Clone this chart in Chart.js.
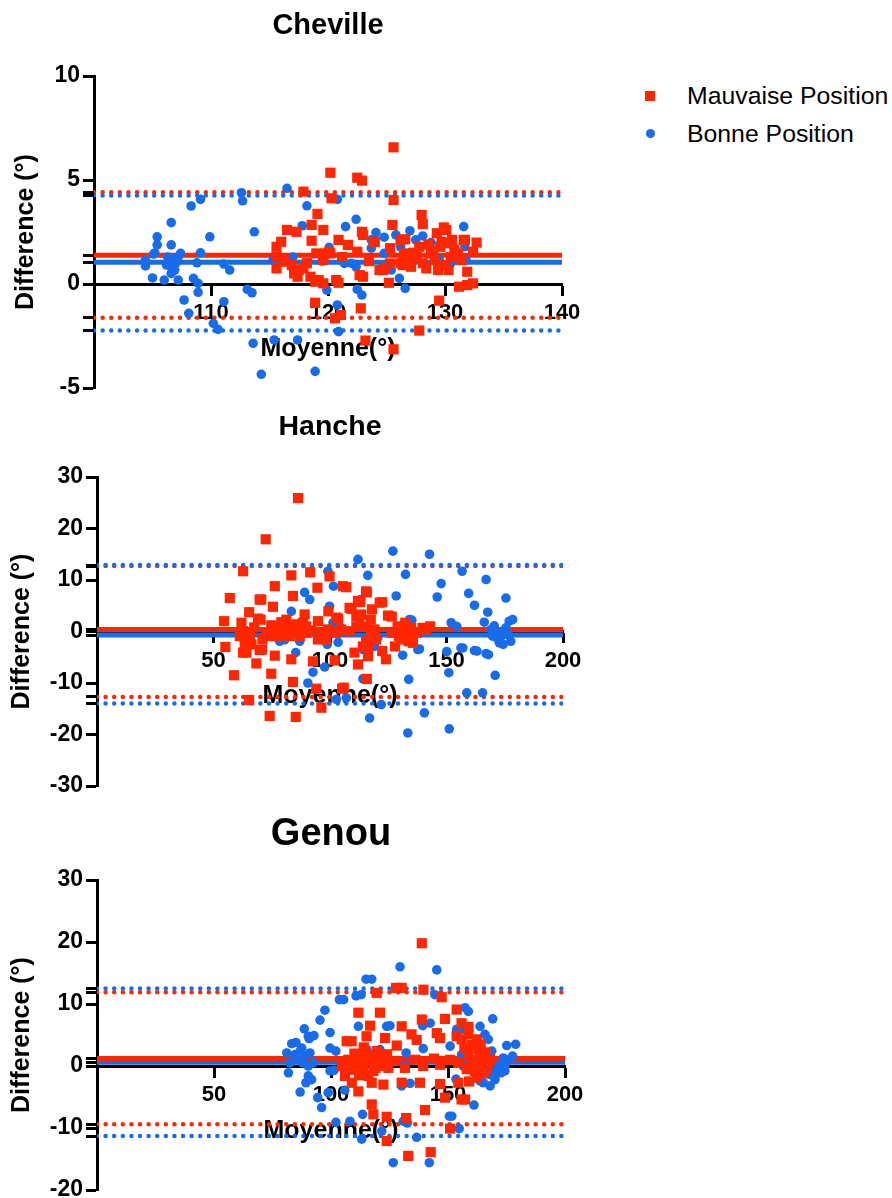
<!DOCTYPE html>
<html><head><meta charset="utf-8">
<script src="https://cdn.jsdelivr.net/npm/chart.js@4.4.1/dist/chart.umd.min.js"></script>
<style>
html,body{margin:0;padding:0;background:#fff;overflow:hidden;width:892px;height:1198px;}
#wrap{position:relative;width:892px;height:1198px;}
canvas{position:absolute;left:0;}
#legend{position:absolute;left:0;top:0;font-family:"Liberation Sans",Arial,sans-serif;font-size:24.8px;color:#000;}
.lg-mark{position:absolute;}
.lg-text{position:absolute;left:687px;height:28px;line-height:28px;white-space:nowrap;}
</style></head><body>
<div id="wrap">
<canvas id="c1" width="600" height="410" style="top:0px;width:600px;height:410px"></canvas>
<canvas id="c2" width="600" height="410" style="top:400px;width:600px;height:410px"></canvas>
<canvas id="c3" width="600" height="398" style="top:800px;width:600px;height:398px"></canvas>
<div id="legend"></div>
</div>
<script>
// ---------------- DATA ----------------
const seriesNames = ['Mauvaise Position', 'Bonne Position'];

// Cheville  [moyenne, difference]
const chevilleXRange = [100, 140];
const chevilleYRange = [-5, 10];
const chevilleYTicks = [-5, 0, 5, 10];
const chevilleMauvaiseLimits = [-1.62, 1.38, 4.41]; // LoA basse, biais, LoA haute
const chevilleBonneLimits = [-2.23, 1.04, 4.26];
const chevilleMauvaise = [
[115.6,1.79],[116.0,2.03],[116.5,2.6],[117.3,2.51],[115.6,1.31],[115.6,0.75],[116.1,1.07],[117.1,0.51],[117.4,0.35],[117.9,0.75],
[117.9,4.44],[119.1,3.37],[118.6,2.84],[119.6,2.6],[118.6,2.08],[118.9,-0.9],[119.8,1.47],[119.6,1.15],[120.1,1.55],[119.2,0.19],
[119.6,0.03],[120.7,0.19],[120.9,0.06],[120.2,5.35],[120.3,4.12],[120.6,-1.65],[121.1,-1.49],[120.9,2.12],[121.7,1.88],[122.5,5.11],
[122.9,4.97],[122.9,2.51],[123.0,2.36],[122.5,1.55],[122.7,0.43],[123.0,0.35],[122.8,-1.17],[123.2,-2.72],[124.0,2.03],[124.7,0.67],
[124.8,0.75],[125.2,0.06],[125.6,6.57],[125.6,4.04],[125.5,2.84],[125.3,1.72],[125.3,0.99],[125.6,-3.14],[126.2,2.12],[126.6,2.15],
[126.4,0.91],[127.1,0.83],[126.5,1.47],[127.8,1.79],[127.6,1.31],[128.1,1.0],[128.4,0.75],[128.8,1.47],[129.1,1.15],[129.4,0.67],
[129.6,1.79],[129.7,2.03],[130.1,2.6],[130.6,2.12],[130.8,1.63],[131.1,1.47],[131.4,1.15],[130.0,0.91],[130.3,0.67],[128.0,3.32],
[128.1,2.88],[129.5,-0.8],[127.8,-2.24],[131.7,2.12],[132.7,1.99],[132.4,1.55],[131.9,0.59],[131.2,-0.13],[131.9,-0.05],[132.4,0.03],
[129.9,2.72],[129.3,2.44],[130.0,1.96],[131.6,2.12],[116.9,0.91],[117.5,0.67],[118.5,0.35],[118.9,0.11],[119.0,1.47],[120.2,1.47],
[123.9,2.03],[124.4,0.67],[126.9,0.91],[126.2,1.0],[116.3,1.2],[118.2,1.0],[121.2,1.3],[123.5,1.1],[127.3,1.5],[128.6,1.9],
[129.0,1.6],[130.5,1.3],[126.9,1.2]
];
const chevilleBonne = [
[104.4,1.15],[104.4,0.87],[105.0,0.29],[105.2,1.49],[105.4,1.88],[105.4,2.27],[106.6,2.95],[106.6,1.88],[106.0,0.19],[107.2,0.19],
[107.4,1.47],[107.7,-0.77],[108.1,-1.41],[108.3,3.75],[109.1,4.07],[109.9,2.27],[109.1,1.5],[108.8,1.02],[108.5,0.27],[108.9,0.03],
[108.9,-0.4],[110.2,-1.89],[110.6,-2.18],[111.1,-0.85],[111.1,0.96],[111.6,0.67],[112.6,4.39],[112.7,4.0],[113.7,2.51],[113.1,-0.26],
[113.5,-0.42],[113.6,-2.85],[114.3,-4.34],[115.4,-2.69],[116.5,4.6],[115.3,1.15],[116.3,1.19],[117.4,-2.69],[118.2,3.76],[117.8,2.8],
[118.9,-4.2],[119.9,-0.29],[120.1,1.76],[120.8,4.07],[120.8,-1.01],[120.9,-2.29],[121.5,2.76],[121.4,0.99],[122.4,3.11],[122.4,0.83],
[122.5,-0.26],[122.9,-0.53],[123.7,2.12],[123.7,1.72],[124.1,2.47],[124.8,2.25],[124.8,1.47],[125.8,2.36],[125.4,0.67],[126.2,1.79],
[126.1,0.27],[126.6,-0.21],[127.0,2.56],[127.5,2.12],[128.1,2.31],[128.8,1.99],[131.6,2.76],[131.7,1.79],[131.8,1.15],[131.1,1.39],
[106.4,1.07],[106.8,1.24],[107.2,1.31],[106.6,0.83],[106.2,0.91],[106.9,0.67],[106.6,0.51],[105.1,1.44],[107.0,1.0],[106.3,1.3],
[117.0,1.3],[119.5,1.1],[122.0,1.0],[129.5,1.2],[130.5,1.0]
];

// Hanche
const hancheXRange = [0, 200];
const hancheYRange = [-30, 30];
const hancheYTicks = [-30, -20, -10, 0, 10, 20, 30];
const hancheMauvaiseLimits = [-12.7, 0.4, 12.7];
const hancheBonneLimits = [-14.0, -0.7, 12.9];
const hancheMauvaise = [
[86.3,25.9],[72.4,17.9],[62.7,11.7],[57.0,6.5],[54.5,2.0],[55.1,-3.0],[58.8,-8.5],[76.3,8.8],[69.8,6.2],[75.5,4.8],
[65.3,3.75],[69.1,2.5],[62.0,1.7],[62.7,0.06],[61.3,-0.9],[63.4,-2.2],[65.6,-0.9],[66.3,-2.5],[62.7,-4.1],[64.1,-4.1],
[69.8,-3.6],[68.4,-6.2],[83.4,10.9],[91.5,11.5],[99.8,10.7],[94.6,8.5],[84.1,6.9],[105.5,8.8],[107.0,8.6],[115.5,7.8],
[74.8,1.2],[77.0,1.0],[79.1,1.8],[81.3,2.3],[82.7,1.0],[85.6,1.4],[72.7,-0.6],[74.1,-0.9],[77.7,-0.9],[80.5,-0.6],
[82.7,-0.9],[87.0,-0.9],[89.8,-0.25],[89.1,3.3],[88.4,1.7],[89.8,1.0],[76.3,-4.7],[83.4,-5.4],[92.7,-5.8],[102.0,-5.6],
[74.8,-8.2],[84.1,-9.8],[94.1,-11.1],[105.2,-11.1],[65.3,-13.3],[74.1,-16.4],[85.3,-16.6],[96.3,-14.8],[112.0,-6.4],[110.5,-4.1],
[70.5,6.2],[70.2,2.3],[70.8,-3.5],[99.3,3.9],[103.5,2.5],[109.2,4.4],[113.0,5.7],[112.5,3.0],[115.8,7.6],[115.8,-9.2],
[118.0,4.3],[117.5,2.3],[119.1,0.4],[116.6,-2.9],[116.3,-4.8],[122.4,5.7],[124.9,3.1],[126.5,2.9],[122.4,-3.8],[124.0,-5.4],
[126.5,-0.25],[129.0,1.0],[130.6,-1.55],[132.3,1.7],[133.1,-0.6],[134.8,0.7],[135.6,-2.2],[137.2,-0.25],[139.7,0.7],[141.3,0.4],
[143.0,1.0],[127.9,-2.9],[129.6,-0.9],[133.7,-1.9],[105.9,-10.9],[94.8,2.0],[102.7,2.7],[99.1,0.4],[102.7,-0.25],[94.8,-1.55],
[98.4,-1.55],[104.8,0.4],[108.4,0.06],[111.3,1.0],[108.4,4.6],[111.3,3.0],[112.0,5.9],[113.4,3.3],[115.5,1.0],[117.6,0.06],
[121.3,5.6],[119.8,-1.55],[115.5,-1.9],[114.1,-2.9],[67.5,0.8],[71.0,-1.5],[78.5,0.3],[84.5,0.5],[92.0,0.2],[96.5,-0.6]
];
const hancheBonne = [
[127.0,15.6],[142.7,15.0],[132.4,11.1],[156.7,11.7],[167.0,10.1],[147.7,9.3],[146.0,6.7],[128.4,6.9],[159.5,7.4],[162.0,5.1],
[175.5,6.5],[167.7,3.75],[166.2,1.8],[152.0,1.7],[154.4,1.0],[134.1,2.3],[169.1,0.4],[171.3,-0.4],[173.4,-0.9],[175.5,0.7],
[176.9,2.0],[177.6,-1.9],[172.7,-2.2],[169.8,-0.9],[174.1,0.06],[176.2,-0.6],[171.9,-1.4],[137.7,-3.5],[131.2,-4.6],[150.1,-3.9],
[156.2,-3.2],[162.0,-3.7],[167.0,-4.3],[133.8,-9.3],[151.0,-8.0],[170.9,-8.5],[158.7,-11.9],[165.5,-11.9],[122.0,-14.2],[140.5,-15.8],
[117.0,-16.8],[133.4,-19.7],[151.2,-18.9],[112.0,14.0],[116.2,10.9],[99.1,11.7],[101.5,8.8],[89.1,7.6],[91.3,6.2],[83.4,3.9],
[99.8,4.9],[113.1,6.2],[101.3,1.7],[104.1,1.0],[78.4,-1.9],[80.5,-1.6],[87.0,-1.9],[85.3,-4.1],[98.8,-2.5],[92.7,-7.9],
[97.7,-6.9],[90.5,-10.0],[114.1,-9.2],[119.1,-2.9],[102.7,-13.2],[107.0,-12.9],[120.5,-1.2],[112.5,1.7],[114.2,-3.5],[103.5,-2.1],
[178.4,2.3],[174.3,-2.5],[135.1,2.2],[138.4,-3.4],[157.0,-3.2],[163.1,-3.8],[168.0,-4.5],[172.3,-0.3],[170.5,1.1]
];

// Genou
const genouXRange = [0, 200];
const genouYRange = [-20, 30];
const genouYTicks = [-20, -10, 0, 10, 20, 30];
const genouMauvaiseLimits = [-9.4, 1.2, 11.9];
const genouBonneLimits = [-11.3, 0.6, 12.5];
const genouMauvaise = [
[119.5,11.8],[120.9,8.6],[111.7,8.6],[116.7,6.5],[106.7,4.0],[115.2,4.8],[123.1,4.5],[104.6,0.0],[106.0,-1.6],[108.9,-2.7],
[111.7,-4.1],[116.0,-1.6],[117.4,-2.7],[122.4,-3.0],[118.1,-0.8],[113.8,0.0],[111.0,1.0],[107.4,1.0],[109.6,-0.6],[119.5,2.4],
[120.9,0.0],[123.1,0.5],[117.4,-6.2],[118.1,-7.8],[123.8,-12.1],[138.8,19.8],[127.8,12.6],[130.2,12.6],[139.5,12.3],[147.3,11.1],
[153.7,9.1],[138.8,7.5],[148.7,7.6],[130.2,6.4],[155.8,6.9],[158.7,6.3],[134.4,5.1],[136.6,4.2],[145.2,5.3],[146.6,4.5],
[153.7,4.8],[155.8,4.3],[158.7,5.1],[160.1,3.4],[162.3,4.3],[163.0,2.7],[158.7,2.1],[163.7,1.85],[165.1,1.0],[167.2,0.5],
[163.7,0.0],[161.5,-0.8],[162.3,-1.9],[166.5,-0.6],[167.9,1.0],[128.1,3.3],[124.5,-0.3],[131.6,-0.3],[139.4,0.0],[146.6,0.2],
[150.9,1.0],[154.4,0.5],[130.2,-2.7],[138.0,-2.7],[146.6,-2.9],[154.4,-2.7],[155.8,-5.4],[148.7,-5.1],[157.3,-5.4],[140.2,-7.1],
[123.8,-8.2],[132.1,-8.4],[150.9,-10.1],[133.0,-14.5],[142.6,-13.9],[108.8,4.0],[110.0,2.0],[112.5,1.5],[114.0,3.0],[116.0,1.8],
[118.0,1.2],[112.0,-1.5],[115.0,0.8],[121.5,1.5],[124.0,1.9],[108.0,-0.5],[119.0,-0.3],[157.0,2.9],[160.0,1.0],[164.0,3.5],
[166.0,2.2],[158.0,-0.5],[162.0,0.8],[165.0,-1.2],[159.0,-2.5],[144.0,1.2],[136.0,1.0],[127.0,0.8]
];
const genouBonne = [
[115.0,14.0],[110.7,11.3],[103.6,10.7],[97.4,9.0],[95.3,7.4],[99.6,5.4],[88.6,6.0],[90.3,4.8],[90.7,4.4],[83.2,3.6],
[87.5,2.9],[86.8,2.4],[84.6,1.85],[81.1,2.1],[85.3,1.0],[88.9,1.6],[91.0,2.1],[92.4,0.5],[90.3,0.0],[87.9,0.5],
[82.5,0.5],[81.8,-1.1],[90.3,-1.6],[89.3,-2.7],[86.8,-4.2],[99.6,2.9],[99.6,-0.8],[98.8,-4.3],[94.3,-5.1],[96.0,-6.7],
[111.7,6.4],[115.2,2.7],[113.8,2.1],[102.1,-9.1],[108.1,-8.9],[113.5,-7.8],[113.1,-11.8],[123.8,6.4],[129.5,16.0],[145.2,15.5],
[144.4,11.5],[125.2,6.5],[139.2,6.5],[132.1,2.1],[139.4,2.8],[120.9,2.65],[157.3,9.4],[158.7,8.8],[169.1,7.6],[163.7,6.4],
[153.7,5.9],[155.8,5.9],[165.8,5.1],[167.2,4.3],[168.7,2.4],[175.1,3.3],[173.6,1.3],[171.5,0.0],[170.1,-0.8],[168.0,-1.4],
[165.1,-2.7],[163.7,-2.4],[155.8,1.85],[156.5,0.0],[150.9,3.2],[153.4,-2.1],[133.8,-2.8],[130.2,-3.2],[161.1,-6.3],[150.6,-8.1],
[151.6,-8.1],[154.8,-10.1],[136.6,-11.5],[121.7,-10.5],[126.6,-15.6],[142.0,-15.6],[130.9,-8.9],[132.6,-9.2],[85.0,3.8],[92.7,4.9],
[91.7,-2.2],[102.1,2.4],[101.3,-0.7],[105.4,10.7],[105.9,-3.9],[112.9,11.5],[117.4,14.0],[142.4,6.9],[174.3,0.0],[176.0,1.0],
[177.6,1.6],[178.9,3.5],[172.6,-1.1],[174.3,-0.8],[168.0,-3.2],[170.1,-2.2]
];

// ---------------- STYLE ----------------
const RED = 'rgb(255,38,0)';
const BLUE = 'rgb(24,108,234)';
Chart.defaults.font.family = '"Liberation Sans", Arial, Helvetica, sans-serif';
Chart.defaults.color = '#000';

function buildChart(id, p) {
  const toPts = arr => arr.map(([x, y]) => ({x, y}));
  const lineDs = (label, y, color, dotted, order) => ({
    label, isLine: true,
    data: [{x: p.xRange[0], y}, {x: p.xRange[1], y}],
    showLine: true, pointRadius: 0, pointHoverRadius: 0,
    borderColor: color, backgroundColor: color,
    borderWidth: dotted ? 4.5 : 5,
    borderDash: dotted ? [0, 8.6] : [],
    borderCapStyle: dotted ? 'round' : 'butt',
    order
  });
  const extra = [...p.redLim, ...p.blueLim];
  return new Chart(document.getElementById(id), {
    type: 'scatter',
    data: {
      datasets: [
        {label: seriesNames[0], data: toPts(p.red), pointStyle: 'rect', pointRadius: 7.2, borderWidth: 0,
         backgroundColor: RED, borderColor: RED, order: 0},
        {label: seriesNames[1], data: toPts(p.blue), pointStyle: 'circle', pointRadius: 4.8, borderWidth: 0,
         backgroundColor: BLUE, borderColor: BLUE, order: 1},
        lineDs('m-bias', p.redLim[1], RED, false, 2),
        lineDs('b-bias', p.blueLim[1], BLUE, false, 3),
        lineDs('b-lo', p.blueLim[0], BLUE, true, 4),
        lineDs('b-hi', p.blueLim[2], BLUE, true, 4),
        lineDs('m-lo', p.redLim[0], RED, true, 5),
        lineDs('m-hi', p.redLim[2], RED, true, 5)
      ]
    },
    options: {
      responsive: false, animation: false, events: [],
      layout: {autoPadding: false, padding: {left: 0, top: 0, bottom: p.padBottom, right: p.padRight}},
      plugins: {
        legend: {display: false}, tooltip: {enabled: false},
        title: {display: true, text: p.title, fullSize: false, color: '#000',
                font: {size: p.titleSize, weight: 'bold'}, padding: p.titlePad}
      },
      scales: {
        x: {
          type: 'linear', position: {y: 0}, min: p.xRange[0], max: p.xRange[1],
          ticks: {stepSize: p.xStep, autoSkip: false, maxRotation: 0, color: '#000', padding: 6,
                  font: {size: 22, weight: 'bold'},
                  callback: v => v === p.xRange[0] ? '' : String(v)},
          grid: {drawOnChartArea: false, tickLength: 10, tickWidth: 3, tickColor: '#000'},
          border: {display: true, color: '#000', width: 3},
          title: {display: true, text: 'Moyenne(°)', color: '#000', font: {size: 25, weight: 'bold'}, padding: 0},
          afterFit: s => { s.height = 80; s.paddingLeft = 0; s.paddingRight = 0; }
        },
        y: {
          type: 'linear', position: 'left', min: p.yRange[0], max: p.yRange[1],
          ticks: {stepSize: p.yStep, autoSkip: false, color: '#000', padding: 3,
                  font: {size: 23, weight: 'bold'},
                  callback: v => p.yTicks.includes(v) ? String(v) : ''},
          afterBuildTicks: s => {
            extra.forEach(v => s.ticks.push({value: v}));
            s.ticks.sort((a, b) => a.value - b.value);
          },
          grid: {drawOnChartArea: false, tickLength: 11, tickWidth: 3, tickColor: '#000'},
          border: {display: true, color: '#000', width: 3},
          title: {display: true, text: 'Difference (°)', color: '#000', font: {size: 25, weight: 'bold'},
                  padding: {top: p.yTitlePad, bottom: 0}},
          afterFit: s => { s.width = p.yWidth; s.paddingTop = 0; s.paddingBottom = 0; }
        }
      }
    }
  });
}

const chart1 = buildChart('c1', {
  title: 'Cheville', titleSize: 29, titlePad: {top: 8.1, bottom: 33.1},
  xRange: chevilleXRange, xStep: 10, yRange: chevilleYRange, yStep: 5, yTicks: chevilleYTicks,
  red: chevilleMauvaise, blue: chevilleBonne, redLim: chevilleMauvaiseLimits, blueLim: chevilleBonneLimits,
  yWidth: 94, padRight: 38, padBottom: 22, yTitlePad: 11
});
buildChart('c2', {
  title: 'Hanche', titleSize: 28.5, titlePad: {top: 9.9, bottom: 32.9},
  xRange: hancheXRange, xStep: 50, yRange: hancheYRange, yStep: 10, yTicks: hancheYTicks,
  red: hancheMauvaise, blue: hancheBonne, redLim: hancheMauvaiseLimits, blueLim: hancheBonneLimits,
  yWidth: 97, padRight: 37, padBottom: 24, yTitlePad: 7.5
});
buildChart('c3', {
  title: 'Genou', titleSize: 38, titlePad: {top: 12.2, bottom: 22.2},
  xRange: genouXRange, xStep: 50, yRange: genouYRange, yStep: 10, yTicks: genouYTicks,
  red: genouMauvaise, blue: genouBonne, redLim: genouMauvaiseLimits, blueLim: genouBonneLimits,
  yWidth: 97, padRight: 35, padBottom: 8, yTitlePad: 7.5
});

// HTML legend built from the first chart's series
(function () {
  const lg = document.getElementById('legend');
  chart1.data.datasets.filter(d => !d.isLine).forEach((d, i) => {
    const yc = 95.5 + i * 37.8;
    const m = document.createElement('div');
    m.className = 'lg-mark';
    if (d.pointStyle === 'rect') {
      Object.assign(m.style, {left: '645px', top: (yc - 5) + 'px', width: '10px', height: '10px', background: d.backgroundColor});
    } else {
      Object.assign(m.style, {left: '645.5px', top: (yc - 4.5) + 'px', width: '9px', height: '9px', borderRadius: '50%', background: d.backgroundColor});
    }
    const t = document.createElement('div');
    t.className = 'lg-text';
    t.style.top = (yc - 13.7) + 'px';
    t.textContent = d.label;
    lg.appendChild(m); lg.appendChild(t);
  });
})();
</script>
</body></html>
